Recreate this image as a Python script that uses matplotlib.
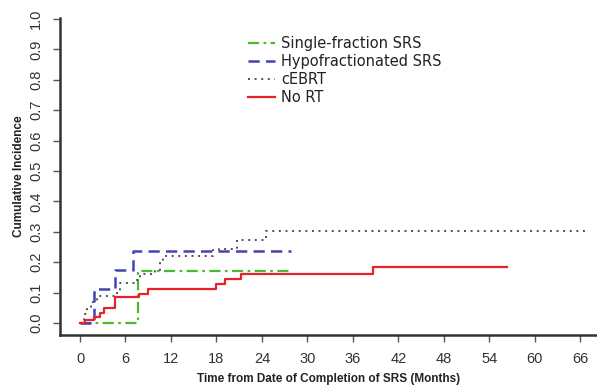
import matplotlib
matplotlib.use("Agg")
import matplotlib.pyplot as plt

# step curves: event times (months) and cumulative incidence
single_t = [0, 7.7, 27.9]
single_y = [0, 0.172, 0.172]

hypo_t = [0, 1.3, 1.8, 4.6, 6.95, 27.8]
hypo_y = [0, 0.005, 0.111, 0.175, 0.238, 0.238]

cebrt_t = [0, 0.1, 0.5, 0.9, 1.5, 2.2, 4.6, 5.3, 7.4, 7.9, 9.9, 10.5, 11.0, 17.6, 18.4, 20.7, 24.6, 66.9]
cebrt_y = [0, 0.01, 0.03, 0.05, 0.07, 0.09, 0.10, 0.13, 0.14, 0.16, 0.17, 0.20, 0.22, 0.24, 0.245, 0.274, 0.304, 0.304]

nort_t = [0, 0.7, 1.9, 2.6, 3.2, 4.6, 7.8, 9.0, 17.9, 19.1, 21.2, 38.7, 56.3]
nort_y = [0, 0.01, 0.021, 0.033, 0.05, 0.086, 0.095, 0.112, 0.129, 0.146, 0.162, 0.185, 0.185]

labels = ["Single-fraction SRS", "Hypofractionated SRS", "cEBRT", "No RT"]
xticks = list(range(0, 67, 6))
yticks = [i / 10 for i in range(11)]

fig = plt.figure(figsize=(5.97, 3.87), dpi=100)
ax = fig.add_axes([0.1005, 0.134, 0.8995, 0.819])

ax.step(single_t, single_y, where="post", color="#4cb82e", lw=1.6, ls=(0, (5, 2, 1.2, 2)), label=labels[0])
ax.step(hypo_t, hypo_y, where="post", color="#4343b8", lw=1.8, ls=(0, (4.5, 2.5)), label=labels[1])
ax.step(cebrt_t, cebrt_y, where="post", color="#505050", lw=1.4, ls=(0, (1, 2.4)), label=labels[2])
ax.step(nort_t, nort_y, where="post", color="#e82228", lw=1.6, label=labels[3])

ax.set_xlim(-2.64, 68.2)
ax.set_ylim(-0.04, 1.003)
ax.spines["top"].set_visible(False)
ax.spines["right"].set_visible(False)
for s in ("left", "bottom"):
    ax.spines[s].set_linewidth(1.8)
    ax.spines[s].set_color("#333333")

ax.set_xticks(xticks)
ax.set_yticks(yticks)
ax.set_yticklabels(["%.1f" % v for v in yticks], rotation=90, va="center")
ax.tick_params(direction="out", length=5, width=1, colors="#555555", labelcolor="#333333",
               labelsize=10.5, pad=7)
for t in ax.get_xticklabels() + ax.get_yticklabels():
    t.set_family("Liberation Sans")

ax.set_xlabel("Time from Date of Completion of SRS (Months)", family="Liberation Sans",
              fontsize=8.5, fontweight="bold", color="#222222", labelpad=5)
ax.set_ylabel("Cumulative Incidence", family="Liberation Sans", fontsize=8.5,
              fontweight="bold", color="#222222", labelpad=3)

leg = ax.legend(loc="upper left", bbox_to_anchor=(0.325, 0.985), frameon=False,
                prop={"family": "DejaVu Sans", "size": 10.5}, handlelength=1.85,
                handletextpad=0.45, labelspacing=0.2)
for t in leg.get_texts():
    t.set_color("#222222")

fig.savefig("out.png", dpi=100)
